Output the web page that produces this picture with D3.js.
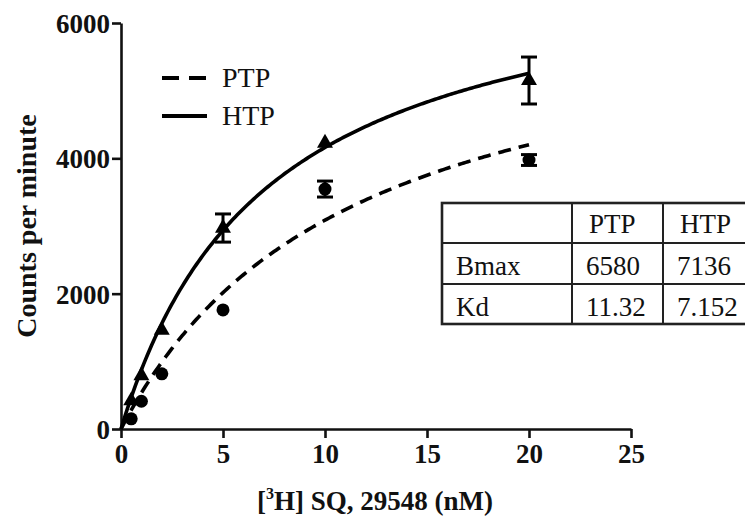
<!DOCTYPE html>
<html><head><meta charset="utf-8">
<script src="https://cdn.jsdelivr.net/npm/d3@7"></script>
<style>
html,body{margin:0;padding:0;background:#fff;}
svg{display:block;font-family:"Liberation Serif","Times New Roman",serif;}
</style></head>
<body>
<svg id="chart" width="745" height="525"></svg>
<script>
// ---- data ----
const concentrations = [0.5, 1, 2, 5, 10, 20];
const ptpValues = [150, 410, 815, 1760, 3546, 3975];
const ptpErrors = [20, 30, 40, 40, 118, 80];
const htpValues = [420, 790, 1460, 2970, 4226, 5150];
const htpErrors = [30, 40, 40, 208, 40, 347];
const xTicks = [0, 5, 10, 15, 20, 25];
const yTicks = [0, 2000, 4000, 6000];
const seriesNames = ["PTP", "HTP"];
const fitRows = ["Bmax", "Kd"];
const fitPTP = [6580, 11.32];
const fitHTP = [7136, 7.152];
const fitLabels = {PTP: ["6580", "11.32"], HTP: ["7136", "7.152"]};

const svg = d3.select("#chart");
const x = d3.scaleLinear().domain([0, 25]).range([121, 631]);
const y = d3.scaleLinear().domain([0, 6000]).range([429, 23]);

// axes
const xAxis = svg.append("g").attr("transform", `translate(0,${y(0)})`)
  .call(d3.axisBottom(x).tickValues(xTicks).tickFormat(d3.format("d")).tickSize(9).tickPadding(6).tickSizeOuter(0));
const yAxis = svg.append("g").attr("transform", `translate(${x(0)},0)`)
  .call(d3.axisLeft(y).tickValues(yTicks).tickFormat(d3.format("d")).tickSize(9).tickPadding(2).tickSizeOuter(0));
[xAxis, yAxis].forEach(g => {
  g.attr("font-family", "Liberation Serif");
  g.select(".domain").attr("stroke", "#111").attr("stroke-width", 2.6);
  g.selectAll(".tick line").attr("stroke", "#111").attr("stroke-width", 2.6);
  g.selectAll(".tick text").attr("fill", "#111").attr("font-size", 27).attr("font-weight", "bold");
});
xAxis.selectAll(".tick text").attr("dy", "0.71em");
yAxis.selectAll(".tick text").attr("dy", "0.35em");

// axis titles
const xt = svg.append("text").attr("x", 375).attr("y", 510).attr("text-anchor", "middle")
  .attr("font-size", 27).attr("font-weight", "bold").attr("fill", "#111");
xt.append("tspan").text("[");
xt.append("tspan").text("3").attr("font-size", 16).attr("dy", -11);
xt.append("tspan").text("H] SQ, 29548 (nM)").attr("dy", 11);

svg.append("text").attr("transform", "translate(36,226) rotate(-90)").attr("text-anchor", "middle")
  .attr("font-size", 28).attr("font-weight", "bold").attr("fill", "#111").text("Counts per minute");

// fitted curves from table parameters
const line = d3.line().x(d => x(d[0])).y(d => y(d[1]));
const xs = d3.range(0, 20.001, 0.1);
const hyper = (p) => xs.map(c => [c, p[0] * c / (p[1] + c)]);
svg.append("path").attr("d", line(hyper(fitPTP))).attr("fill", "none").attr("stroke", "#000")
  .attr("stroke-width", 3.6).attr("stroke-dasharray", "13,8");
svg.append("path").attr("d", line(hyper(fitHTP))).attr("fill", "none").attr("stroke", "#000")
  .attr("stroke-width", 3.6);

// error bars (hidden when shorter than the symbol, as in the original)
function errBars(vals, errs) {
  const g = svg.append("g").attr("stroke", "#000").attr("stroke-width", 3);
  concentrations.forEach((c, i) => {
    const cx = x(c), y1 = y(vals[i] + errs[i]), y2 = y(vals[i] - errs[i]);
    if (y2 - y1 < 10) return;
    g.append("line").attr("x1", cx).attr("x2", cx).attr("y1", y1).attr("y2", y2);
    g.append("line").attr("x1", cx - 8).attr("x2", cx + 8).attr("y1", y1).attr("y2", y1);
    g.append("line").attr("x1", cx - 8).attr("x2", cx + 8).attr("y1", y2).attr("y2", y2);
  });
}
errBars(ptpValues, ptpErrors);
errBars(htpValues, htpErrors);

// markers
svg.append("g").selectAll("circle").data(concentrations).join("circle")
  .attr("cx", d => x(d)).attr("cy", (d, i) => y(ptpValues[i])).attr("r", 6.5).attr("fill", "#000");
const tri = d3.symbol().type(d3.symbolTriangle).size(110);
svg.append("g").selectAll("path").data(concentrations).join("path")
  .attr("transform", (d, i) => `translate(${x(d)},${y(htpValues[i])})`).attr("d", tri).attr("fill", "#000");

// legend
const leg = svg.append("g");
leg.append("line").attr("x1", 162).attr("x2", 207).attr("y1", 78).attr("y2", 78)
  .attr("stroke", "#000").attr("stroke-width", 4).attr("stroke-dasharray", "17,10");
leg.append("line").attr("x1", 162).attr("x2", 207).attr("y1", 116).attr("y2", 116)
  .attr("stroke", "#000").attr("stroke-width", 4);
seriesNames.forEach((n, i) => {
  leg.append("text").attr("x", 222).attr("y", 87 + i * 38).attr("font-size", 28).attr("fill", "#111").text(n);
});

// table
const colX = [442, 572, 663, 760];
const rowY = [203, 243, 284, 324];
const tg = svg.append("g");
tg.append("rect").attr("x", colX[0]).attr("y", rowY[0]).attr("width", colX[3] - colX[0]).attr("height", rowY[3] - rowY[0])
  .attr("fill", "#fff").attr("stroke", "#222").attr("stroke-width", 2.6);
[rowY[1], rowY[2]].forEach(ry => tg.append("line").attr("x1", colX[0]).attr("x2", colX[3]).attr("y1", ry).attr("y2", ry)
  .attr("stroke", "#222").attr("stroke-width", 2));
[colX[1], colX[2]].forEach(cx => tg.append("line").attr("x1", cx).attr("x2", cx).attr("y1", rowY[0]).attr("y2", rowY[3])
  .attr("stroke", "#222").attr("stroke-width", 2));
const cellText = (tx, ty, s) => tg.append("text").attr("x", tx).attr("y", ty).attr("font-size", 27).attr("fill", "#111").text(s);
seriesNames.forEach((n, j) => cellText(colX[j + 1] + 17, 233, n));
fitRows.forEach((r, i) => {
  const by = [275, 316][i];
  cellText(colX[0] + 14, by, r);
  seriesNames.forEach((n, j) => cellText(colX[j + 1] + 14, by, fitLabels[n][i]));
});
</script>
</body></html>
